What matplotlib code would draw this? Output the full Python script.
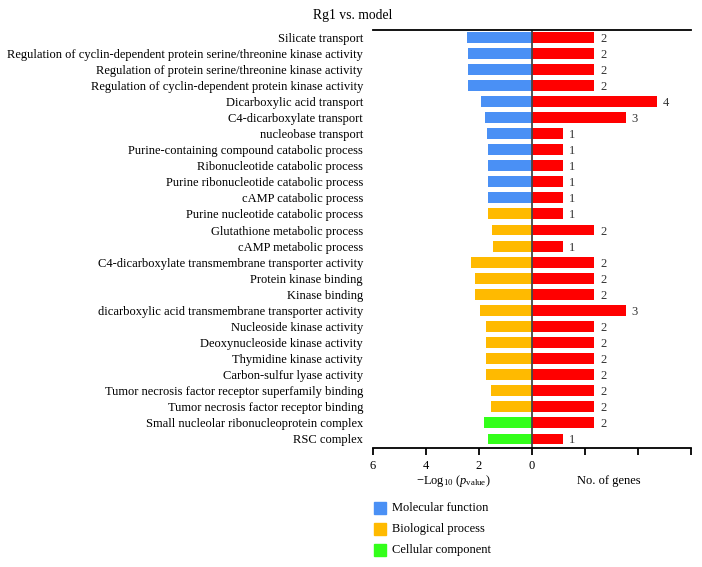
import matplotlib
matplotlib.use("Agg")
import matplotlib.pyplot as plt
from matplotlib.patches import Rectangle

plt.rcParams['font.family'] = ['Liberation Serif', 'DejaVu Serif']
plt.rcParams['mathtext.fontset'] = 'custom'
plt.rcParams['mathtext.rm'] = 'Liberation Serif'
plt.rcParams['mathtext.it'] = 'Liberation Serif:italic'

terms = [
    "Silicate transport",
    "Regulation of cyclin-dependent protein serine/threonine kinase activity",
    "Regulation of protein serine/threonine kinase activity",
    "Regulation of cyclin-dependent protein kinase activity",
    "Dicarboxylic acid transport",
    "C4-dicarboxylate transport",
    "nucleobase transport",
    "Purine-containing compound catabolic process",
    "Ribonucleotide catabolic process",
    "Purine ribonucleotide catabolic process",
    "cAMP catabolic process",
    "Purine nucleotide catabolic process",
    "Glutathione metabolic process",
    "cAMP metabolic process",
    "C4-dicarboxylate transmembrane transporter activity",
    "Protein kinase binding",
    "Kinase binding",
    "dicarboxylic acid transmembrane transporter activity",
    "Nucleoside kinase activity",
    "Deoxynucleoside kinase activity",
    "Thymidine kinase activity",
    "Carbon-sulfur lyase activity",
    "Tumor necrosis factor receptor superfamily binding",
    "Tumor necrosis factor receptor binding",
    "Small nucleolar ribonucleoprotein complex",
    "RSC complex",
]
neg_log_p = [2.45, 2.39, 2.39, 2.39, 1.90, 1.77, 1.69, 1.65, 1.65, 1.65, 1.65, 1.65,
             1.51, 1.47, 2.28, 2.16, 2.15, 1.94, 1.74, 1.74, 1.74, 1.71, 1.55, 1.55,
             1.80, 1.65]
gene_counts = [2, 2, 2, 2, 4, 3, 1, 1, 1, 1, 1, 1, 2, 1, 2, 2, 2, 3, 2, 2, 2, 2, 2, 2, 2, 1]
categories = ["MF"] * 11 + ["BP"] * 13 + ["CC"] * 2
cat_names = {"MF": "Molecular function", "BP": "Biological process", "CC": "Cellular component"}
cat_colors = {"MF": "#4a90f5", "BP": "#ffba00", "CC": "#33ff1a"}
gene_color = "#ff0000"
tick_vals = [-6, -4, -2, 0, 2, 4, 6]
tick_labels = ["6", "4", "2", "0", "", "", ""]
gene_scale = 1.18  # gene count -> shared axis units

fs = 9
fig = plt.figure(figsize=(7.02, 5.67), dpi=100)
ax = fig.add_axes([0.531, 0.2099, 0.453, 0.7371])

n = len(terms)
ys = list(range(n))
h = 0.68
ax.barh(ys, [-v for v in neg_log_p], height=h,
        color=[cat_colors[c] for c in categories], edgecolor='none')
ax.barh(ys, [g * gene_scale for g in gene_counts], height=h,
        color=gene_color, edgecolor='none')
for y, g in zip(ys, gene_counts):
    ax.text(g * gene_scale + 0.22, y, str(g), va='center_baseline', ha='left', fontsize=fs, color='#333333')

ax.axvline(0, color='#444444', lw=1.3)
ax.set_xlim(-6, 6)
ax.set_ylim(n - 1 + 0.56, -0.44)
ax.set_yticks(ys)
ax.set_yticklabels(terms, fontsize=fs, va='center_baseline')
ax.tick_params(axis='y', length=0, pad=7)
ax.set_xticks(tick_vals)
ax.set_xticklabels(tick_labels, fontsize=fs)
ax.tick_params(axis='x', length=5, width=1.3, direction='out', pad=4)
for s in ['left', 'right']:
    ax.spines[s].set_visible(False)
ax.spines['top'].set_linewidth(1.3)
ax.spines['bottom'].set_linewidth(1.3)

fig.text(453 / 702, 1 - 481 / 567, r"$-$Log$_{10}$ ($p_{\mathrm{value}}$)", ha='center', va='center', fontsize=fs)
fig.text(609 / 702, 1 - 481 / 567, "No. of genes", ha='center', va='center', fontsize=fs)
fig.text(313 / 702, 1 - 15 / 567, "Rg1 vs. model", ha='left', va='center', fontsize=9.8)

for i, c in enumerate(["MF", "BP", "CC"]):
    yc = 508 + i * 21
    fig.patches.append(Rectangle((374 / 702, 1 - (yc + 6) / 567), 12 / 702, 12 / 567,
                                 transform=fig.transFigure, color=cat_colors[c]))
    fig.text(392 / 702, 1 - yc / 567, cat_names[c], ha='left', va='center', fontsize=fs)

fig.savefig("out.png", dpi=100)
